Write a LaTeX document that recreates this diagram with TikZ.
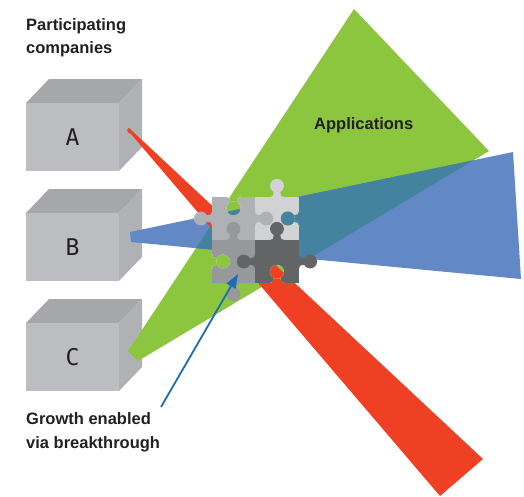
\documentclass[tikz,border=0pt]{standalone}
\usepackage{fontspec}
\setmainfont{Liberation Sans}
\newfontfamily\boxfont{DejaVu Sans Mono}
\usetikzlibrary{calc,arrows.meta}
\definecolor{appgreen}{RGB}{140,198,63}
\definecolor{bandblue}{RGB}{98,136,197}
\definecolor{overlapteal}{RGB}{67,131,159}
\definecolor{bandred}{RGB}{239,64,35}
\definecolor{txt}{RGB}{35,31,32}
\definecolor{cubefront}{RGB}{188,189,192}
\definecolor{cubetop}{RGB}{166,167,170}
\definecolor{cubeside}{RGB}{176,177,180}
\definecolor{pieceTL}{RGB}{176,177,180}
\definecolor{pieceTR}{RGB}{209,210,212}
\definecolor{pieceBL}{RGB}{151,152,156}
\definecolor{pieceBR}{RGB}{99,100,102}
\definecolor{arrowblue}{RGB}{30,108,182}

\newcommand\greenpath{(128,351) -- (354,9) -- (489,151) -- (138,361) -- cycle}
\newcommand\bluepath{(130,232) -- (513,152) -- (521,279) -- (131,242) -- cycle}
\newcommand\redpath{(129,128) -- (483,459) -- (440,496) -- (131,134) .. controls (127,133) and (126,129) .. (129,128) -- cycle}

\newcommand\bglayers{%
  \fill[white] (0,0) rectangle (524,496);
  \fill[appgreen] \greenpath;
  \fill[bandblue] \bluepath;
  \begin{scope}\clip \greenpath; \fill[overlapteal] \bluepath; \end{scope}
  \fill[bandred] \redpath;}

% point at perpendicular offset #1 and distance #2 along the tab direction
\newcommand\pp[2]{({\ex+(#1)*\edy+(#2)*\edx},{\ey+(#1)*\edx+(#2)*\edy})}
\newcommand\neckpath{\pp{7}{-0.8} -- \pp{7}{0} .. controls \pp{4.2}{0} and \pp{3.4}{1.5} .. \pp{3.4}{4.5} -- \pp{3.4}{9} -- \pp{-3.4}{9} -- \pp{-3.4}{4.5} .. controls \pp{-3.4}{1.5} and \pp{-4.2}{0} .. \pp{-7}{0} -- \pp{-7}{-0.8} -- cycle}
\newcommand\headpath{\pp{0}{11.2} circle[radius=6.9]}

% tab of a puzzle piece: colour, edge x, edge y, outward dx, dy
\newcommand\ptab[5]{%
  \def\ex{#2}\def\ey{#3}\def\edx{#4}\def\edy{#5}%
  \fill[#1] \neckpath;
  \fill[#1] \headpath;}
% blank (notch) on an outer edge: edge x, edge y, inward dx, dy
\newcommand\pblank[4]{%
  \def\ex{#1}\def\ey{#2}\def\edx{#3}\def\edy{#4}%
  \begin{scope}\clip \neckpath; \bglayers \end{scope}
  \def\ex{#1}\def\ey{#2}\def\edx{#3}\def\edy{#4}%
  \begin{scope}\clip \headpath; \bglayers \end{scope}}

\newcommand\drawcube[1]{%
  \fill[cubetop] (26,#1) -- (49,#1-24) -- (142,#1-24) -- (119,#1) -- cycle;
  \fill[cubeside] (119,#1) -- (142,#1-24) -- (142,#1+44) -- (119,#1+68) -- cycle;
  \fill[cubefront] (26,#1) rectangle (119,#1+68);}

\tikzset{
  lbl/.style={font=\bfseries\fontsize{16.5}{23}\selectfont, text=txt, inner sep=0pt, align=left},
  cubeletter/.style={font=\boxfont\fontsize{23}{23}\selectfont, text=txt, inner sep=0pt},
  pointer/.style={arrowblue, line width=1.8pt, -{Triangle[length=14pt,width=10pt]}}
}

\begin{document}
\begin{tikzpicture}[x=1pt,y=-1pt]
\useasboundingbox (0,0) rectangle (524,496);
\fill[white] (0,0) rectangle (524,496);

% companies
\drawcube{103}
\drawcube{213}
\drawcube{323}
\node[cubeletter] (labA) at (72.5,137) {A};
\node[cubeletter] (labB) at (72.5,247) {B};
\node[cubeletter] (labC) at (72.5,357) {C};

% wedges
\fill[appgreen] \greenpath;
\fill[bandblue] \bluepath;
\begin{scope}\clip \greenpath; \fill[overlapteal] \bluepath; \end{scope}
\fill[bandred] \redpath;

% puzzle
\fill[pieceTL] (212,197) rectangle (255,240);
\fill[pieceTR] (255,197) rectangle (299,240);
\fill[pieceBL] (212,240) rectangle (255,283);
\fill[pieceBR] (255,240) rectangle (299,283);
\pblank{233.5}{197}{0}{1}
\pblank{299}{218.5}{-1}{0}
\pblank{212}{261.5}{1}{0}
\pblank{277}{283}{0}{-1}
\ptab{pieceTL}{212}{218.5}{-1}{0}
\ptab{pieceTL}{255}{218.5}{1}{0}
\ptab{pieceBL}{233.5}{240}{0}{-1}
\ptab{pieceTR}{277}{197}{0}{-1}
\ptab{pieceBR}{277}{240}{0}{-1}
\ptab{pieceBL}{233.5}{283}{0}{1}
\ptab{pieceBR}{255}{261.5}{-1}{0}
\ptab{pieceBR}{299}{261.5}{1}{0}

% labels
\node[lbl, anchor=base west] (title) at (26,53) {Participating\\companies};
\node[lbl, anchor=base west] (apps) at (314,129) {Applications};
\node[lbl, anchor=base west, font=\bfseries\fontsize{16.5}{24}\selectfont] (growth) at (26,448) {Growth enabled\\via breakthrough};

% pointer
\coordinate (growthptr) at (161,407);
\coordinate (puzzletip) at (238,274);
\draw[pointer] (growthptr) -- (puzzletip);
\end{tikzpicture}
\end{document}
